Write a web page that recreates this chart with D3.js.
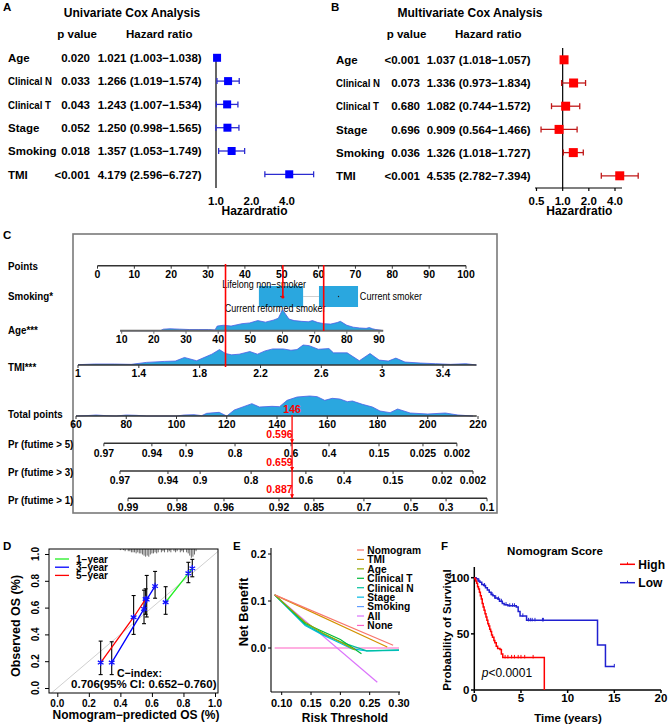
<!DOCTYPE html>
<html>
<head>
<meta charset="utf-8">
<script src="https://cdn.jsdelivr.net/npm/d3@7"></script>
<style>
  body { margin: 0; background: #fff; }
</style>
</head>
<body>
<script>
// ---------------- data ----------------
var coxVars = ["Age", "Clinical N", "Clinical T", "Stage", "Smoking", "TMI"];

var uniP  = ["0.020", "0.033", "0.043", "0.052", "0.018", "<0.001"];
var uniHR = [1.021, 1.266, 1.243, 1.250, 1.357, 4.179];
var uniLo = [1.003, 1.019, 1.007, 0.998, 1.053, 2.596];
var uniHi = [1.038, 1.574, 1.534, 1.565, 1.749, 6.727];

var multiP  = ["<0.001", "0.073", "0.680", "0.696", "0.036", "<0.001"];
var multiHR = [1.037, 1.336, 1.082, 0.909, 1.326, 4.535];
var multiLo = [1.018, 0.973, 0.744, 0.564, 1.018, 2.782];
var multiHi = [1.057, 1.834, 1.572, 1.466, 1.727, 7.394];

// nomogram
var pointTicks = [0, 10, 20, 30, 40, 50, 60, 70, 80, 90, 100];
var ageTicks = [10, 20, 30, 40, 50, 60, 70, 80, 90];
var tmiTicks = [1, 1.4, 1.8, 2.2, 2.6, 3, 3.4];
var totalTicks = [60, 80, 100, 120, 140, 160, 180, 200, 220];
var smokeLevels = ["Lifelong non\u2212smoker", "Current reformed smoker", "Current smoker"];
var smokeLevelPts = [45.2, 48.2, 71.2];
var smokeBoxLo = [43.8, 60.1];
var smokeBoxHi = [55.8, 70.7];

var ageDensX = [9.5, 22, 23, 25, 28, 31, 34, 37, 39, 39.7, 41.7, 44, 47.4, 49.8, 52.3, 54.7, 57.1, 58.7, 60, 62, 63.6, 66, 68, 69.3, 71, 73, 75, 77, 78, 80, 82, 84, 86, 87, 88, 89, 90, 91.3];
var ageDensY = [0, 0, 4, 5, 4, 3, 3, 3, 2, 12, 14, 12, 18, 20, 26, 22, 27, 32, 54, 30, 26, 24, 23, 26, 21, 18, 17, 21, 24, 14, 9, 7, 6, 8, 5, 3, 2, 0];
var tmiDensX = [1.0, 1.11, 1.24, 1.35, 1.45, 1.57, 1.64, 1.70, 1.78, 1.84, 1.88, 1.93, 1.97, 2.01, 2.06, 2.13, 2.18, 2.23, 2.28, 2.35, 2.40, 2.44, 2.48, 2.52, 2.58, 2.65, 2.68, 2.77, 2.85, 2.92, 2.98, 3.04, 3.09, 3.15, 3.25, 3.35, 3.45, 3.55, 3.62];
var tmiDensY = [1, 3, 3, 2, 8, 11, 12, 23, 13, 25, 33, 47, 35, 31, 33, 41, 33, 43, 49, 49, 45, 47, 61, 59, 48, 50, 37, 37, 13, 35, 15, 12, 21, 9, 6, 4, 2, 4, 0];
var totDensX = [60, 64, 68, 72, 76, 80, 84, 88, 100, 103, 107, 110, 112, 117, 120, 123, 130, 133, 138, 141, 144, 148, 153, 156, 159, 162, 165, 168, 170, 174, 178, 181, 185, 188, 193, 200, 207, 212, 218];
var totDensY = [0, 1, 3, 1, 0, 3, 2, 0, 0, 3, 4, 1, 8, 11, 0, 18, 37, 27, 29, 28, 47, 57, 60, 58, 47, 53, 51, 43, 45, 35, 27, 15, 10, 21, 9, 6, 9, 3, 0];

var pr5Labels = ["0.97", "0.94", "0.9", "0.8", "0.6", "0.4", "0.15", "0.025", "0.002"];
var pr5Pts = [71.1, 90.2, 103.8, 123.3, 145.6, 160.7, 180.6, 198.1, 211.6];
var pr3Labels = ["0.97", "0.94", "0.9", "0.8", "0.6", "0.4", "0.15", "0.02", "0.002"];
var pr3Pts = [77.5, 96.6, 109.4, 129.7, 151.5, 166.7, 186.2, 205.7, 218];
var pr1Labels = ["0.99", "0.98", "0.96", "0.92", "0.85", "0.7", "0.5", "0.3", "0.1"];
var pr1Pts = [80.7, 100.2, 118.9, 140.8, 154.7, 174.6, 193.3, 207.3, 223.6];

var patientTMI = 1.97, patientAge = 72.8, patientSmokePts = 50.3, patientTotal = 146;
var patientPr = ["0.596", "0.659", "0.887"];

// calibration
var calRugX = [0.40, 0.42, 0.43, 0.45, 0.46, 0.47, 0.48, 0.49, 0.50, 0.51, 0.52, 0.53, 0.54, 0.55, 0.56, 0.57, 0.58, 0.59, 0.60, 0.61, 0.62, 0.63, 0.64, 0.66, 0.67, 0.68, 0.70, 0.71, 0.72, 0.74, 0.75, 0.76, 0.78, 0.79, 0.80, 0.82, 0.83, 0.84, 0.85, 0.86, 0.87, 0.88];
var calRugN = [1, 1, 2, 2, 2, 3, 3, 3, 4, 3, 4, 4, 5, 6, 7, 6, 7, 5, 4, 4, 3, 4, 3, 3, 2, 3, 3, 2, 3, 2, 3, 2, 3, 2, 3, 3, 4, 6, 8, 7, 5, 2];
var cal1Pred = [0.687, 0.831, 0.856], cal1Obs = [0.64, 0.856, 0.893], cal1Lo = [0.55, 0.786, 0.83], cal1Hi = [0.756, 0.938, 0.96];
var cal3Pred = [0.345, 0.55, 0.567, 0.62], cal3Obs = [0.19, 0.59, 0.66, 0.76], cal3Lo = [0.10, 0.48, 0.53, 0.67], cal3Hi = [0.345, 0.73, 0.84, 0.87];
var cal5Pred = [0.275, 0.484, 0.56], cal5Obs = [0.19, 0.528, 0.664], cal5Lo = [0.10, 0.40, 0.55], cal5Hi = [0.35, 0.69, 0.74];

// decision curves
var dcaNames = ["Nomogram", "TMI", "Age", "Clinical T", "Clinical N", "Stage", "Smoking", "All", "None"];
var dcaColors = ["#F8766D", "#D39200", "#93AA00", "#00BA38", "#00C19F", "#00B9E3", "#619CFF", "#DB72FB", "#FF61C3"];
var nomX = [0.088, 0.29], nomY = [0.113, 0.006];
var tmiX = [0.088, 0.28], tmiY = [0.113, 0.002];
var ageX = [0.088, 0.14, 0.17, 0.20, 0.225], ageY = [0.113, 0.055, 0.032, 0.013, -0.004];
var ctX = [0.088, 0.14, 0.17, 0.20, 0.236], ctY = [0.113, 0.052, 0.035, 0.018, -0.012];
var cnX = [0.088, 0.14, 0.17, 0.20, 0.245, 0.30], cnY = [0.113, 0.050, 0.030, 0.013, -0.006, -0.004];
var stX = [0.088, 0.14, 0.17, 0.20, 0.22, 0.245, 0.30], stY = [0.113, 0.048, 0.028, 0.010, -0.002, -0.006, -0.005];
var smX = [0.088, 0.143, 0.245, 0.30], smY = [0.113, 0.058, -0.007, -0.005];
var allX = [0.088, 0.263], allY = [0.113, -0.073];
var noneX = [0.088, 0.30], noneY = [0, 0];

// Kaplan-Meier
var highT = [0, 0.05, 0.15, 0.25, 0.35, 0.45, 0.55, 0.65, 0.75, 0.85, 0.95, 1.05, 1.15, 1.25, 1.35, 1.45, 1.55, 1.65, 1.75, 1.85, 1.95, 2.1, 2.2, 2.35, 2.5, 2.75, 2.9, 3.05, 7.5];
var highS = [100, 99, 97, 95, 92, 90, 87, 84, 81, 77, 74, 71, 68, 65, 62, 59, 57, 54, 52, 49, 47, 44, 42, 39, 37, 36, 32, 29, 0];
var highCensor = [3.3, 3.6, 4.0, 4.3, 4.7, 5.0, 5.4, 6.3];
var lowT = [0, 0.2, 0.4, 0.6, 0.8, 1.0, 1.2, 1.4, 1.6, 1.8, 2.0, 2.2, 2.5, 2.7, 3.0, 3.2, 3.6, 4.5, 4.7, 4.9, 5.6, 13.2, 14.05, 15.0];
var lowS = [100, 99, 97, 96, 94, 93, 91, 89, 87, 85, 84, 82, 81, 79, 77, 76, 75, 74, 70, 66, 62, 40, 21, 21];
var lowCensor = [0.5, 1.1, 1.9, 2.3, 2.6, 2.9, 3.4, 3.8, 4.1, 4.3, 5.2, 5.8, 6.0, 6.2, 6.5, 7.3, 7.4, 15.0];

// ---------------- helpers ----------------
var svg = d3.select("body").append("svg")
  .attr("width", 669).attr("height", 726)
  .style("font-family", "'Liberation Sans', Arial, Helvetica, sans-serif");
svg.append("rect").attr("width", 669).attr("height", 726).attr("fill", "#fff");

function txt(g, x, y, s, o) {
  o = o || {};
  var tf = "translate(" + x + "," + y + ")";
  if (o.rot) tf += " rotate(" + o.rot + ")";
  if (o.sx) tf += " scale(" + o.sx + ",1)";
  var t = g.append("text").attr("transform", tf)
    .attr("text-anchor", o.anchor || "start")
    .attr("font-size", o.size || 11.5)
    .attr("font-weight", o.weight || "bold")
    .attr("fill", o.fill || "#000")
    .text(s);
  if (o.italic) t.attr("font-style", "italic");
  return t;
}
function line(g, x1, y1, x2, y2, col, w) {
  return g.append("line").attr("x1", x1).attr("y1", y1).attr("x2", x2).attr("y2", y2)
    .attr("stroke", col || "#000").attr("stroke-width", w || 1);
}
var f3 = d3.format(".3f");

// ---------------- A / B forest plots ----------------
function forest(o) {
  var g = svg.append("g");
  txt(g, o.letterX, 10.5, o.letter, {size: 11.5});
  txt(g, o.titleX, 17, o.title, {size: 12, anchor: "middle"});
  txt(g, o.pHeadX, 37.5, "p value");
  txt(g, o.hrHeadX, 37.5, "Hazard ratio");
  var rowY = d3.scalePoint().domain(coxVars).range([o.row0, o.row0 + 5 * o.dy]);
  var x = d3.scaleLog().base(2).domain(o.domain).range(o.range);

  line(g, x(1), o.axisTop, x(1), 188, "#000", 1.2);
  if (o.hAxis) {
    line(g, o.hAxis[0], 188, o.hAxis[1], 188, "#000", 1.2);
    o.ticks.forEach(function (t) { line(g, x(t), 188, x(t), 191, "#000", 1.2); });
  }
  o.ticks.forEach(function (t) {
    txt(g, x(t), 204.5, t.toFixed(1), {anchor: "middle"});
  });
  txt(g, o.xlabX, 215, "Hazardratio", {size: 12, anchor: "middle"});

  coxVars.forEach(function (v, i) {
    var y = rowY(v);
    txt(g, o.labelX, y + 4.2, v, {sx: v.indexOf("Clinical") === 0 ? 0.84 : null});
    txt(g, o.pRight, y + 4.2, o.p[i], {anchor: "end"});
    txt(g, o.hrX, y + 4.2, f3(o.hr[i]) + " (" + f3(o.lo[i]) + "\u2212" + f3(o.hi[i]) + ")");
    line(g, x(o.lo[i]), y, x(o.hi[i]), y, o.whisk, 1.3);
    line(g, x(o.lo[i]), y - 3, x(o.lo[i]), y + 3, o.whisk, 1.3);
    line(g, x(o.hi[i]), y - 3, x(o.hi[i]), y + 3, o.whisk, 1.3);
    g.append("rect").attr("x", x(o.hr[i]) - o.box / 2).attr("y", y - o.box / 2)
      .attr("width", o.box).attr("height", o.box).attr("fill", o.fill);
  });
}

forest({
  letter: "A", letterX: 3, title: "Univariate Cox Analysis", titleX: 132,
  pHeadX: 57.3, hrHeadX: 126, labelX: 8, pRight: 90, hrX: 97.7,
  row0: 57.8, dy: 23.3, domain: [1, 4], range: [216, 287], ticks: [1, 2, 4],
  axisTop: 54, hAxis: null, xlabX: 254.5,
  p: uniP, hr: uniHR, lo: uniLo, hi: uniHi, fill: "#0000ff", whisk: "#2c2cd0", box: 8
});
forest({
  letter: "B", letterX: 331, title: "Multivariate Cox Analysis", titleX: 470,
  pHeadX: 386.7, hrHeadX: 455, labelX: 336, pRight: 420, hrX: 426.7,
  row0: 59.8, dy: 23.2, domain: [0.5, 4], range: [536.5, 615], ticks: [0.5, 1, 2, 4],
  axisTop: 48, hAxis: [535, 622], xlabX: 579.3,
  p: multiP, hr: multiHR, lo: multiLo, hi: multiHi, fill: "#ff0000", whisk: "#c01818", box: 9
});

// ---------------- C nomogram ----------------
var C = svg.append("g");
txt(C, 3, 239, "C", {size: 11.5});
C.append("rect").attr("x", 73).attr("y", 234).attr("width", 424).attr("height", 279)
  .attr("fill", "none").attr("stroke", "#7a7a7a").attr("stroke-width", 1.6);

var ptsX = d3.scaleLinear().domain([0, 100]).range([97.5, 466]);
var ageXs = d3.scaleLinear().domain([10, 90]).range([121.7, 379]);
var tmiXs = d3.scaleLinear().domain([1, 3.4]).range([78, 443]);
var totX = d3.scaleLinear().domain([60, 220]).range([76, 478]);
var densFill = "#2aa7df", densEdge = "#4b5ee6";

var rowLabs = [["Points", 270], ["Smoking*", 300], ["Age***", 333.5], ["TMI***", 371],
  ["Total points", 418], ["Pr (futime > 5)", 448], ["Pr (futime > 3)", 475.5], ["Pr (futime > 1)", 503.5]];
rowLabs.forEach(function (r) { txt(C, 8, r[1], r[0], {size: 11.5, sx: 0.85}); });

function nomoAxis(scale, y, from, to, ticks, labels, labY, col, w) {
  line(C, scale(from), y, scale(to), y, col || "#333", w || 1.5);
  ticks.forEach(function (t, i) {
    line(C, scale(t), y, scale(t), y + 3, col || "#333", 1);
    txt(C, scale(t), labY, labels ? labels[i] : String(t), {size: 10.5, anchor: "middle"});
  });
}
function density(xs, ys, scale, baseY, maxH) {
  var h = d3.scaleLinear().domain([0, d3.max(ys)]).range([0, maxH]);
  var pts = xs.map(function (v, i) { return [scale(v), baseY - h(ys[i])]; });
  C.append("path").attr("d", d3.area().x(function (d) { return d[0]; }).y0(baseY).y1(function (d) { return d[1]; })(pts))
    .attr("fill", densFill);
  C.append("path").attr("d", d3.line()(pts)).attr("fill", "none").attr("stroke", densEdge).attr("stroke-width", 0.8);
}

// points axis
nomoAxis(ptsX, 265.7, 0, 100, pointTicks, null, 277.7);

// smoking boxes
var smY = 296.5;
line(C, ptsX(smokeBoxHi[0]), smY, ptsX(smokeBoxLo[1]), smY, "#cfcfcf", 1);
smokeBoxLo.forEach(function (lo, i) {
  C.append("rect").attr("x", ptsX(lo)).attr("y", 286).attr("width", ptsX(smokeBoxHi[i]) - ptsX(lo))
    .attr("height", 21).attr("fill", densFill);
  C.append("circle").attr("cx", ptsX((lo + smokeBoxHi[i]) / 2)).attr("cy", smY).attr("r", 0.7).attr("fill", "#222");
});
txt(C, ptsX(smokeLevelPts[0]), 287.5, smokeLevels[0], {size: 10, weight: "normal", anchor: "middle", sx: 0.9});
txt(C, ptsX(smokeLevelPts[1]), 312, smokeLevels[1], {size: 10.5, weight: "normal", anchor: "middle", sx: 0.86});
txt(C, ptsX(smokeLevelPts[2]), 299.5, smokeLevels[2], {size: 10.5, weight: "normal", sx: 0.86});

// age
density(ageDensX, ageDensY, ageXs, 330.7, 21);
nomoAxis(ageXs, 330.7, 9.5, 91.3, ageTicks, null, 343.3, "#666", 2);

// TMI
density(tmiDensX, tmiDensY, tmiXs, 365, 20);
nomoAxis(tmiXs, 365, 1, 3.62, tmiTicks, null, 376.7);

// total points
density(totDensX, totDensY, totX, 416, 20);
nomoAxis(totX, 416, 60, 219.5, totalTicks, null, 427.7);

// probability axes (positions given on the total points scale)
nomoAxis(totX, 443.3, pr5Pts[0], pr5Pts[pr5Pts.length - 1], pr5Pts, pr5Labels, 456.7);
nomoAxis(totX, 471, pr3Pts[0], pr3Pts[pr3Pts.length - 1], pr3Pts, pr3Labels, 484.3);
nomoAxis(totX, 498.3, pr1Pts[0], pr1Pts[pr1Pts.length - 1], pr1Pts, pr1Labels, 511);

// patient readout in red
var red = "#ff0000";
line(C, tmiXs(patientTMI), 264, tmiXs(patientTMI), 367, red, 1.6);
line(C, ptsX(patientSmokePts), 265, ptsX(patientSmokePts), 297, red, 1.6);
C.append("circle").attr("cx", ptsX(patientSmokePts)).attr("cy", 297).attr("r", 1.6).attr("fill", red);
line(C, ageXs(patientAge), 265, ageXs(patientAge), 331, red, 1.6);
var tx = totX(patientTotal);
line(C, tx, 415, tx, 498, red, 1.3);
txt(C, tx, 413, String(patientTotal), {size: 10.5, anchor: "middle", fill: red});
[443.3, 471, 498.3].forEach(function (ay, i) {
  C.append("path").attr("d", "M" + (tx - 2) + "," + (ay - 4) + "L" + (tx + 2) + "," + (ay - 4) + "L" + tx + "," + ay + "Z").attr("fill", red);
  txt(C, tx + 0.5, ay - 5, patientPr[i], {size: 10.5, anchor: "end", fill: red});
});

// ---------------- D calibration ----------------
var D = svg.append("g");
txt(D, 3, 550, "D", {size: 11.5});
var cx = d3.scaleLinear().domain([0, 1]).range([57.3, 215]);
var cy = d3.scaleLinear().domain([0, 1]).range([688, 554]);
var calTicks = [0, 0.2, 0.4, 0.6, 0.8, 1.0];
D.append("g").attr("transform", "translate(0,693)")
  .call(d3.axisBottom(cx).tickValues(calTicks).tickSize(4).tickSizeOuter(0).tickFormat(""))
  .call(function (a) { a.select(".domain").remove(); });
D.append("g").attr("transform", "translate(49,0)")
  .call(d3.axisLeft(cy).tickValues(calTicks).tickSize(4).tickSizeOuter(0).tickFormat(""))
  .call(function (a) { a.select(".domain").remove(); });
calTicks.forEach(function (t) {
  txt(D, cx(t), 707.2, t.toFixed(1), {size: 10, anchor: "middle"});
  txt(D, 39, cy(t), t.toFixed(1), {size: 10, anchor: "middle", rot: -90});
});
txt(D, 136, 719, "Nomogram\u2212predicted OS (%)", {size: 12, anchor: "middle"});
txt(D, 20, 626, "Observed OS (%)", {size: 12.5, anchor: "middle", rot: -90});

line(D, cx(-0.037), cy(-0.037), cx(1.02), cy(1.02), "#d0d0d0", 1);
calRugX.forEach(function (v, i) {
  line(D, cx(v), 549, cx(v), 549 + calRugN[i] * 1.1, "#444", 0.8);
});
D.append("rect").attr("x", 49).attr("y", 549).attr("width", 169).attr("height", 144)
  .attr("fill", "none").attr("stroke", "#000").attr("stroke-width", 1);

var calSeries = [
  {name: "1\u2212year", col: "#22ee22", p: cal1Pred, o: cal1Obs, lo: cal1Lo, hi: cal1Hi},
  {name: "3\u2212year", col: "#0000ff", p: cal3Pred, o: cal3Obs, lo: cal3Lo, hi: cal3Hi},
  {name: "5\u2212year", col: "#ff0000", p: cal5Pred, o: cal5Obs, lo: cal5Lo, hi: cal5Hi}
];
calSeries.forEach(function (s, k) {
  var ly = 559 + k * 8.2;
  line(D, 55, ly, 69, ly, s.col, 1.3);
  txt(D, 76, ly + 3.5, s.name, {size: 10});
  s.p.forEach(function (p, i) {
    line(D, cx(p), cy(s.lo[i]), cx(p), cy(s.hi[i]), "#000", 1.1);
    line(D, cx(p) - 2, cy(s.lo[i]), cx(p) + 2, cy(s.lo[i]), "#000", 1.1);
    line(D, cx(p) - 2, cy(s.hi[i]), cx(p) + 2, cy(s.hi[i]), "#000", 1.1);
  });
});
calSeries.forEach(function (s) {
  var pts = s.p.map(function (p, i) { return [cx(p), cy(s.o[i])]; });
  D.append("path").attr("d", d3.line()(pts)).attr("fill", "none").attr("stroke", s.col).attr("stroke-width", 1.3);
  pts.forEach(function (q) {
    D.append("path").attr("d", d3.symbol(d3.symbolAsterisk, 30)())
      .attr("transform", "translate(" + q[0] + "," + q[1] + ")")
      .attr("fill", "none").attr("stroke", "#1010ff").attr("stroke-width", 1.3);
  });
});
txt(D, 117, 677, "C\u2212index:", {size: 11.5, sx: 0.92});
txt(D, 216.5, 688, "0.706(95% CI: 0.652\u22120.760)", {size: 11.5, anchor: "end"});

// ---------------- E decision curve ----------------
var E = svg.append("g");
txt(E, 233, 550, "E", {size: 11.5});
var ex = d3.scaleLinear().domain([0.1, 0.3]).range([281.7, 399]);
var ey = d3.scaleLinear().domain([0, 0.2]).range([648, 554]);
var eTx = [0.10, 0.15, 0.20, 0.25, 0.30], eTy = [0, 0.1, 0.2];
line(E, 271, 548, 271, 692, "#000", 1.1);
line(E, 271, 692, 400, 692, "#000", 1.1);
eTy.forEach(function (t) {
  line(E, 268, ey(t), 271, ey(t), "#000", 1);
  txt(E, 266, ey(t) + 4, t.toFixed(1), {size: 11, anchor: "end"});
});
eTx.forEach(function (t) {
  line(E, ex(t), 692, ex(t), 695, "#000", 1);
  txt(E, ex(t), 706.7, t.toFixed(2), {size: 11, anchor: "middle"});
});
txt(E, 345, 722, "Risk Threshold", {size: 13, anchor: "middle", sx: 0.92});
txt(E, 248, 612, "Net Benefit", {size: 13, anchor: "middle", rot: -90});

var dcaX = [nomX, tmiX, ageX, ctX, cnX, stX, smX, allX, noneX];
var dcaY = [nomY, tmiY, ageY, ctY, cnY, stY, smY, allY, noneY];
var drawOrder = [8, 7, 6, 5, 4, 3, 2, 1, 0];
drawOrder.forEach(function (k) {
  var pts = dcaX[k].map(function (v, i) { return [ex(v), ey(dcaY[k][i])]; });
  E.append("path").attr("d", d3.line()(pts)).attr("fill", "none")
    .attr("stroke", dcaColors[k]).attr("stroke-width", 1.2);
});
dcaNames.forEach(function (n, k) {
  var ly = 550 + k * 9.43;
  line(E, 357, ly, 364, ly, dcaColors[k], 1.2);
  txt(E, 367.3, ly + 3.8, n, {size: 10.2});
});

// ---------------- F Kaplan-Meier ----------------
var F = svg.append("g");
txt(F, 441, 550, "F", {size: 11.5});
txt(F, 555, 555, "Nomogram Score", {size: 11.5, anchor: "middle"});
var fx = d3.scaleLinear().domain([0, 20]).range([474.3, 661]);
var fy = d3.scaleLinear().domain([0, 100]).range([690, 577.7]);
line(F, 474.3, 567, 474.3, 690, "#000", 1.5);
line(F, 474.3, 690, 661, 690, "#000", 1.5);
[0, 50, 100].forEach(function (t) {
  line(F, 471, fy(t), 474.3, fy(t), "#000", 1.5);
  txt(F, 469.5, fy(t) + 4, String(t), {size: 11.5, anchor: "end"});
});
[0, 5, 10, 15, 20].forEach(function (t) {
  line(F, fx(t), 690, fx(t), 693, "#000", 1.5);
  txt(F, fx(t), 702, String(t), {size: 11.5, anchor: "middle"});
});
txt(F, 568, 721.5, "Time (years)", {size: 11.5, anchor: "middle"});
txt(F, 450.5, 630, "Probability of Survival", {size: 11.5, anchor: "middle", rot: -90});

var kmLine = d3.line().curve(d3.curveStepAfter);
function km(T, S, cens, col) {
  var pts = T.map(function (t, i) { return [fx(t), fy(S[i])]; });
  F.append("path").attr("d", kmLine(pts)).attr("fill", "none").attr("stroke", col).attr("stroke-width", 1.5);
  cens.forEach(function (c) {
    var s = S[d3.bisectRight(T, c) - 1];
    line(F, fx(c), fy(s) - 2.5, fx(c), fy(s) + 1, col, 1);
  });
}
km(lowT, lowS, lowCensor, "#2020d0");
km(highT, highS, highCensor, "#ff0000");

[["High", "#ff0000", 564.3], ["Low", "#2020d0", 582.7]].forEach(function (l) {
  line(F, 620, l[2], 635, l[2], l[1], 1.5);
  line(F, 627.5, l[2] - 2, 627.5, l[2], l[1], 1);
  txt(F, 638.3, l[2] + 4.3, l[0], {size: 12});
});
var pt = F.append("text").attr("x", 481.7).attr("y", 676.7).attr("font-size", 12);
pt.append("tspan").attr("font-style", "italic").text("p");
pt.append("tspan").text("<0.0001");
</script>
</body>
</html>
